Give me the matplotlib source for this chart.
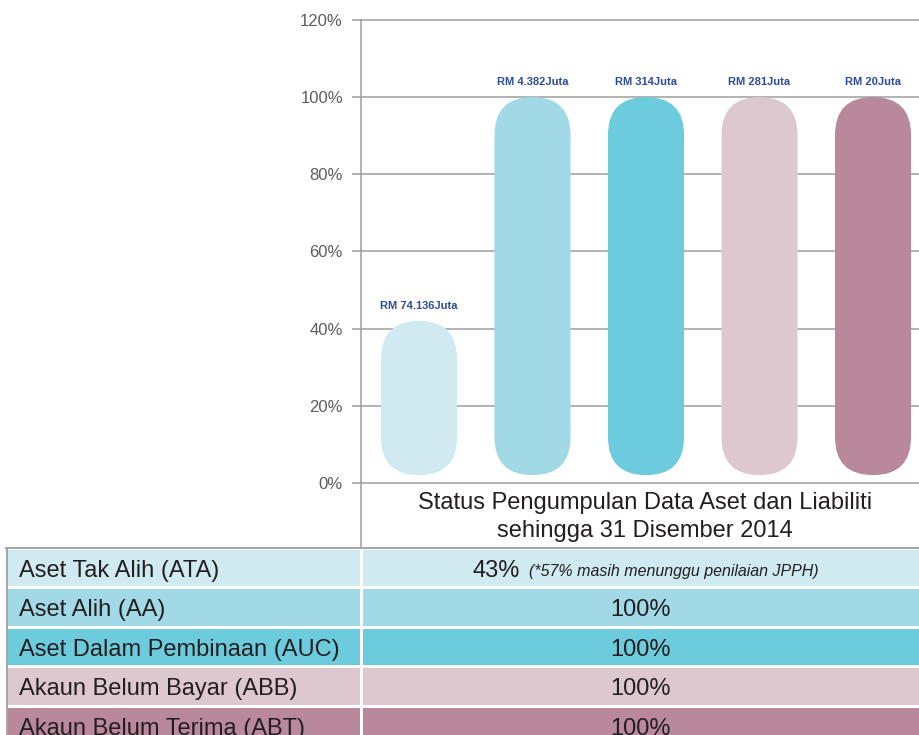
import matplotlib
matplotlib.use("Agg")
import matplotlib.pyplot as plt
from matplotlib.patches import FancyBboxPatch, Rectangle
from matplotlib import font_manager

# -- Data ----------------------------------------------------------------------
CATEGORIES  = ["Aset Tak Alih (ATA)", "Aset Alih (AA)", "Aset Dalam Pembinaan (AUC)",
               "Akaun Belum Bayar (ABB)", "Akaun Belum Terima (ABT)"]
BAR_VALUES  = [42, 100, 100, 100, 100]          # % collected (bar heights)
BAR_LABELS  = ["RM 74.136Juta", "RM 4.382Juta", "RM 314Juta", "RM 281Juta", "RM 20Juta"]
TABLE_MAIN  = ["43%", "100%", "100%", "100%", "100%"]
TABLE_NOTE  = ["(*57% masih menunggu penilaian JPPH)", "", "", "", ""]
Y_TICKS     = [0, 20, 40, 60, 80, 100, 120]
TITLE       = "Status Pengumpulan Data Aset dan Liabiliti\nsehingga 31 Disember 2014"

# -- Styling -------------------------------------------------------------------
COLORS     = ["#cfeaf1", "#a2d9e6", "#6ccbdc", "#dec8cf", "#b9889b"]
GRID_C     = "#9e9e9e"
TEXT_C     = "#231f20"
LABEL_C    = "#2d4b9b"
TICK_C     = "#5c5c5c"
BAR_WIDTH  = 0.67
BAR_BASE   = 2.0

names = {f.name for f in font_manager.fontManager.ttflist}
HAS_NARROW = "Liberation Sans Narrow" in names
LABEL_FONT = ["Liberation Sans Narrow", "Liberation Sans"] if HAS_NARROW else ["Liberation Sans"]
LABEL_SIZE = 9.6 if HAS_NARROW else 8.0

plt.rcParams["font.family"] = ["Liberation Sans", "DejaVu Sans"]

W, H = 919, 735
fig = plt.figure(figsize=(W / 100, H / 100), dpi=100)

# -- Chart ---------------------------------------------------------------------
ax = fig.add_axes([361 / W, (H - 548) / H, 558 / W, 528 / H])
ax.set_xlim(-0.511, 4.405)
ax.set_ylim(-16.9, 120)

for s in ["top", "right", "bottom"]:
    ax.spines[s].set_visible(False)
ax.spines["left"].set_color(GRID_C)
ax.spines["left"].set_linewidth(1.1)

ax.set_xticks([])
ax.set_yticks(Y_TICKS)
ax.set_yticklabels([f"{v}%" for v in Y_TICKS])
ax.tick_params(axis="y", direction="out", length=6.5, width=1.1, color=GRID_C,
               labelsize=12, labelcolor=TICK_C, pad=6.5)
ax.grid(axis="y", color=GRID_C, linewidth=1.1)
ax.set_axisbelow(True)
for g in ax.get_ygridlines():
    g.set_clip_on(False)

# pill-shaped bars: compensate rounding for different x/y scales
fig.canvas.draw()
bb = ax.get_window_extent()
px_x = bb.width / (ax.get_xlim()[1] - ax.get_xlim()[0])
px_y = bb.height / (ax.get_ylim()[1] - ax.get_ylim()[0])
aspect = px_x / px_y

for i, (val, lab, col) in enumerate(zip(BAR_VALUES, BAR_LABELS, COLORS)):
    patch = FancyBboxPatch((i - BAR_WIDTH / 2, BAR_BASE), BAR_WIDTH, val - BAR_BASE,
                           boxstyle=f"round,pad=0,rounding_size={BAR_WIDTH / 2}",
                           mutation_aspect=aspect, facecolor=col, edgecolor="none",
                           zorder=3)
    ax.add_patch(patch)
    ax.annotate(lab, (i, val), xytext=(0, 7), textcoords="offset points",
                ha="center", va="bottom", fontsize=LABEL_SIZE, fontweight="bold",
                family=LABEL_FONT, color=LABEL_C, zorder=4)

ax.text(0.509, -8.8, TITLE, transform=ax.get_yaxis_transform(), ha="center",
        va="center", fontsize=17, color=TEXT_C, linespacing=1.38)

# -- Table ---------------------------------------------------------------------
ROW_PX   = 39.5
tab = fig.add_axes([0, 0, 1, (H - 548) / H])
tab.set_xlim(0, W)
tab.set_ylim((H - 548) / ROW_PX, 0)
tab.axis("off")

LEFT, SPLIT, RIGHT = 8, 361, W
for i, (cat, main, note, col) in enumerate(zip(CATEGORIES, TABLE_MAIN, TABLE_NOTE, COLORS)):
    y0, hgt = i + 0.04, 0.93
    tab.add_patch(Rectangle((LEFT, y0), SPLIT - 1 - LEFT, hgt, facecolor=col,
                            edgecolor="none"))
    tab.add_patch(Rectangle((SPLIT + 1.5, y0), RIGHT - SPLIT - 1.5, hgt, facecolor=col,
                            edgecolor="none"))
    yc = y0 + hgt / 2 + 0.07
    tab.text(LEFT + 11, yc, cat, ha="left", va="center", fontsize=17, color=TEXT_C)
    cx = (SPLIT + RIGHT) / 2
    if note:
        tab.text(cx - 120, yc, main, ha="right", va="center", fontsize=17, color=TEXT_C)
        tab.text(cx - 111, yc + 0.03, note, ha="left", va="center", fontsize=11.5,
                 style="italic", color=TEXT_C)
    else:
        tab.text(cx, yc, main, ha="center", va="center", fontsize=17, color=TEXT_C)

# table borders
tab.plot([LEFT - 2, RIGHT], [0, 0], color=GRID_C, lw=1.3, clip_on=False)
tab.plot([LEFT - 1, LEFT - 1], [0, (H - 548) / ROW_PX], color=GRID_C, lw=1.3,
         clip_on=False)

fig.savefig("out.png", dpi=100)
